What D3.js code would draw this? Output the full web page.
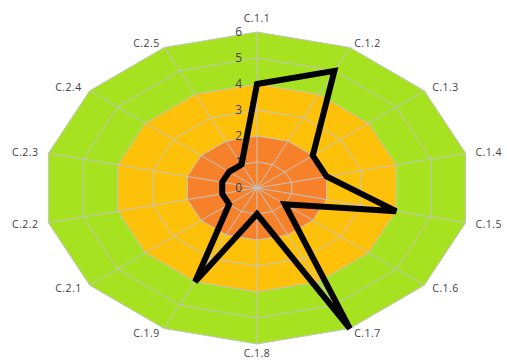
<!DOCTYPE html>
<html>
<head>
<meta charset="utf-8">
<script src="https://cdn.jsdelivr.net/npm/d3@7"></script>
<style>
  html, body { margin: 0; padding: 0; background: #fff; }
  svg { display: block; font-family: "Open Sans", "DejaVu Sans", sans-serif; }
</style>
</head>
<body>
<svg id="chart" width="507" height="362"></svg>
<script>
// Criteria shown around the radar
const categories = ["C.1.1", "C.1.2", "C.1.3", "C.1.4", "C.1.5", "C.1.6", "C.1.7",
                    "C.1.8", "C.1.9", "C.2.1", "C.2.2", "C.2.3", "C.2.4", "C.2.5"];
// Score per criterion
const scores = [4, 5, 2, 2, 4, 1, 6, 1, 4, 1, 1, 1, 1, 1];
// Radial tick labels
const tickValues = [0, 1, 2, 3, 4, 5, 6];
// Colour bands: upper bound of each band
const bandLimits = [6, 4, 2];
const bandColors = ["#a6e21f", "#fdc10a", "#f7812b"];

const svg = d3.select("#chart");
const cx = 257, cy = 188;
const rx = 214, ry = 156;
const n = categories.length;

const angle = d3.scaleLinear().domain([0, n]).range([0, 2 * Math.PI]);
const rScaleX = d3.scaleLinear().domain([0, 6]).range([0, rx]);
const rScaleY = d3.scaleLinear().domain([0, 6]).range([0, ry]);

function pt(i, v) {
  const a = angle(i);
  return [cx + rScaleX(v) * Math.sin(a), cy - rScaleY(v) * Math.cos(a)];
}
function ring(v) {
  return d3.range(n).map(i => pt(i, v));
}
const closed = d3.line().curve(d3.curveLinearClosed);

// Filled bands, outermost first
svg.append("g").selectAll("path")
  .data(bandLimits)
  .join("path")
  .attr("d", v => closed(ring(v)))
  .attr("fill", (v, i) => bandColors[i]);

// Grid rings
const grid = svg.append("g")
  .attr("stroke", "#c4c4c4")
  .attr("stroke-width", 1)
  .attr("fill", "none");
grid.selectAll("path.ring")
  .data(tickValues.filter(t => t > 0))
  .join("path")
  .attr("class", "ring")
  .attr("d", v => closed(ring(v)));

// Spokes
grid.selectAll("line.spoke")
  .data(d3.range(n))
  .join("line")
  .attr("class", "spoke")
  .attr("x1", cx).attr("y1", cy)
  .attr("x2", i => pt(i, 6)[0])
  .attr("y2", i => pt(i, 6)[1]);

// Radial tick labels along the first axis
svg.append("g").selectAll("text")
  .data(tickValues)
  .join("text")
  .attr("x", cx - 15)
  .attr("y", v => cy - rScaleY(v))
  .attr("dy", "0.36em")
  .attr("text-anchor", "end")
  .attr("font-size", 12)
  .attr("fill", "#404040")
  .text(d => d);

// Category labels
svg.append("g").selectAll("text")
  .data(categories)
  .join("text")
  .attr("x", (d, i) => cx + (rx + 10) * Math.sin(angle(i)))
  .attr("y", (d, i) => {
    const c = Math.cos(angle(i));
    const base = cy - (ry + 5) * c;
    if (Math.abs(Math.sin(angle(i))) >= 0.1) return base;
    return c > 0 ? base - 9 : base + 4;
  })
  .attr("dy", "0.35em")
  .attr("text-anchor", (d, i) => {
    const s = Math.sin(angle(i));
    return Math.abs(s) < 0.1 ? "middle" : (s > 0 ? "start" : "end");
  })
  .attr("font-size", 10.5)
  .attr("letter-spacing", 0.5)
  .attr("fill", "#404040")
  .text(d => d);

// Score polygon
svg.append("path")
  .attr("d", closed(scores.map((v, i) => pt(i, v))))
  .attr("fill", "none")
  .attr("stroke", "#000")
  .attr("stroke-width", 6)
  .attr("stroke-linejoin", "miter");
</script>
</body>
</html>
